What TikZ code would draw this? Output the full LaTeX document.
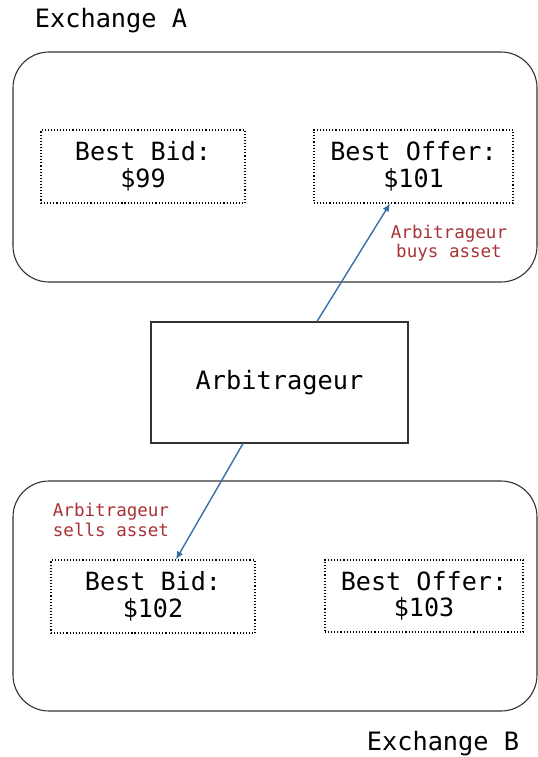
\documentclass[tikz,border=0pt]{standalone}
\usepackage{fontspec}
\setmonofont{DejaVu Sans Mono}
\usetikzlibrary{arrows.meta}
\definecolor{arrowblue}{HTML}{3A6EA5}
\definecolor{labelred}{HTML}{A83236}
\definecolor{edge}{HTML}{333333}
\tikzset{
  exch/.style={draw=edge, line width=1.1bp, rounded corners=36bp},
  quote/.style={draw=black, dotted, line width=1.1bp, align=center, font=\ttfamily\fontsize{25.2}{26.5}\selectfont, inner sep=0pt},
  agent/.style={draw=edge, line width=1.1bp, font=\ttfamily\fontsize{25.4}{27}\selectfont, minimum width=257bp, minimum height=121bp, inner sep=0pt},
  title/.style={font=\ttfamily\fontsize{25.4}{27}\selectfont, inner sep=0pt},
  note/.style={text=labelred, align=center, font=\ttfamily\fontsize{17.6}{19.5}\selectfont, inner sep=0pt},
  trade/.style={draw=arrowblue, line width=1.4bp, -{Latex[length=8bp,width=7bp]}}
}
\begin{document}
\begin{tikzpicture}[x=1bp,y=-1bp]
\useasboundingbox (0,0) rectangle (538,757);
% exchanges
\draw[exch] (13,52) rectangle (537,282);
\draw[exch] (13,481) rectangle (537,711);
\node[title] (exA) at (111,21) {Exchange A};
\node[title] (exB) at (443,744) {Exchange B};
% quotes
\node[quote, minimum width=204bp, minimum height=73bp] (bidA) at (143,166.5) {Best Bid:\\\$99};
\node[quote, minimum width=199bp, minimum height=73bp] (offA) at (413.5,166.5) {Best Offer:\\\$101};
\node[quote, minimum width=204bp, minimum height=73bp] (bidB) at (153,596.5) {Best Bid:\\\$102};
\node[quote, minimum width=198bp, minimum height=72bp] (offB) at (424,596) {Best Offer:\\\$103};
% arbitrageur
\node[agent] (arb) at (279.5,382.5) {Arbitrageur};
% trades
\draw[trade] ([xshift=37.5bp]arb.north) -- ([xshift=-23.5bp]offA.south);
\draw[trade] ([xshift=-36.5bp]arb.south) -- ([xshift=23bp]bidB.north);
% notes
\node[note] (buys) at (449,243) {Arbitrageur\\buys asset};
\node[note] (sells) at (111,520) {Arbitrageur\\sells asset};
\end{tikzpicture}
\end{document}
